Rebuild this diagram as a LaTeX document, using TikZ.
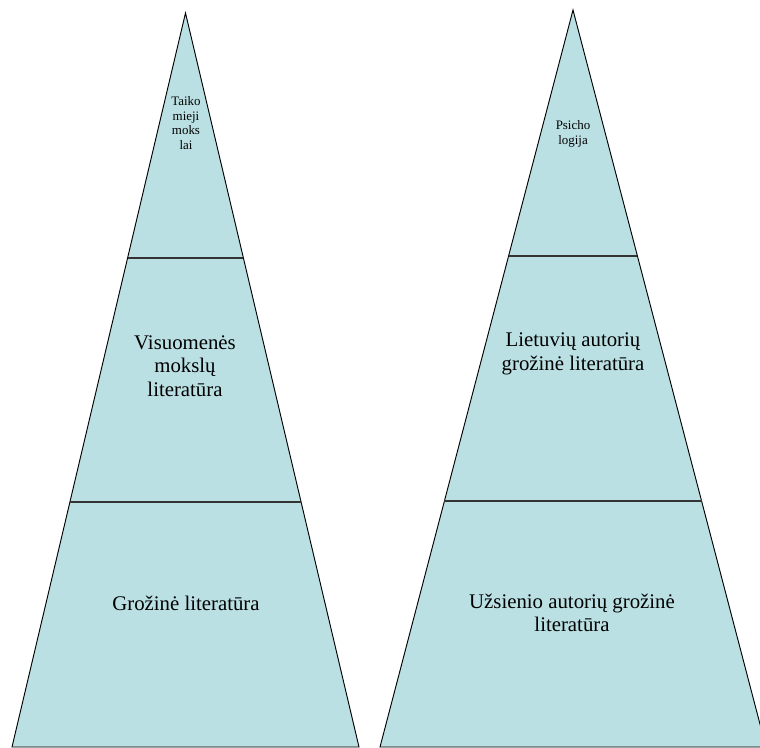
\documentclass[tikz,border=0pt]{standalone}
\usepackage{fontspec}
\setmainfont{Liberation Serif}
\usetikzlibrary{calc}
\definecolor{pyrfill}{RGB}{187,224,227}

\begin{document}
\begin{tikzpicture}[x=0.75pt,y=-0.75pt,
  side/.style={draw=black,line width=0.7pt,fill=pyrfill},
  divider/.style={draw=black!80,line width=1.6pt},
  big/.style={align=center,font=\fontsize{15.6}{17.6}\selectfont},
  small/.style={align=center,font=\fontsize{9.7}{10.9}\selectfont}]

\useasboundingbox (0,0) rectangle (760,747);
\clip (0,0) rectangle (760,747);

% Left pyramid
\coordinate (lA) at (185.5,13);
\coordinate (lL) at (12,747);
\coordinate (lR) at (359,747);
\draw[side] (lA) -- (lR) -- (lL) -- cycle;
\draw[divider] ($(lA)!1/3!(lL)$) -- ($(lA)!1/3!(lR)$);
\draw[divider] ($(lA)!2/3!(lL)$) -- ($(lA)!2/3!(lR)$);

\node[small] (taiko) at (186,123) {Taiko\\mieji\\moks\\lai};
\node[big] (visuom) at (185,366) {Visuomenės\\mokslų\\literatūra};
\node[big] (grozine) at (186,603) {Grožinė literatūra};

% Right pyramid
\coordinate (rA) at (573,10);
\coordinate (rL) at (380,747);
\coordinate (rR) at (766,747);
\draw[side] (rA) -- (rR) -- (rL) -- cycle;
\draw[divider] ($(rA)!1/3!(rL)$) -- ($(rA)!1/3!(rR)$);
\draw[divider] ($(rA)!2/3!(rL)$) -- ($(rA)!2/3!(rR)$);

\node[small] (psicho) at (573,134) {Psicho\\logija};
\node[big] (lietuv) at (573,354) {Lietuvių autorių\\grožinė literatūra};
\node[big] (uzsien) at (572,613) {Užsienio autorių grožinė\\literatūra};

\end{tikzpicture}
\end{document}
